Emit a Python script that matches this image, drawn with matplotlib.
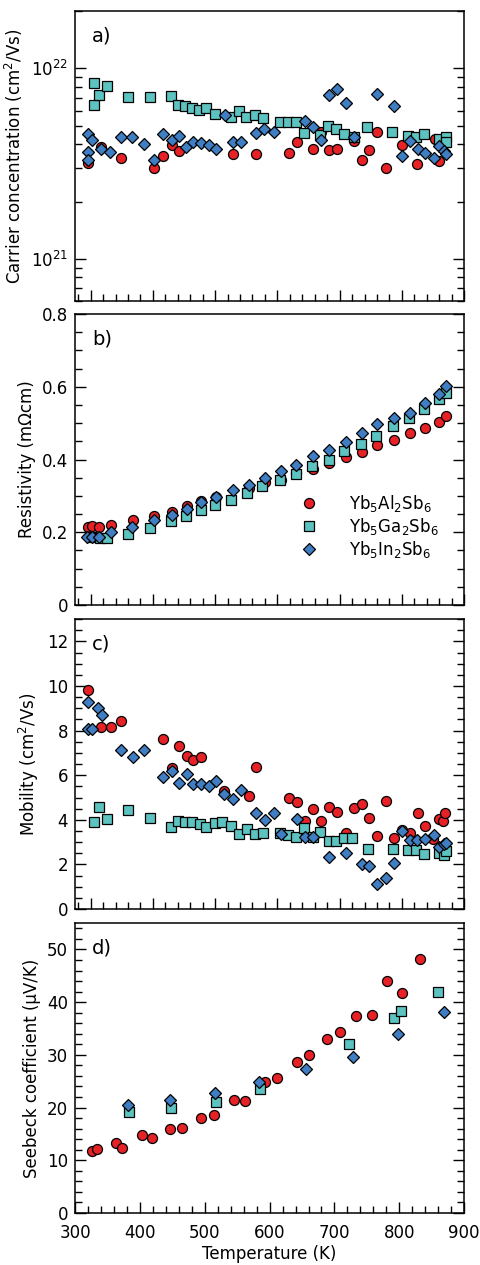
import matplotlib
matplotlib.use("Agg")
import matplotlib.pyplot as plt
from matplotlib.ticker import MultipleLocator, LogLocator, NullFormatter

plt.rcParams['font.family'] = ['DejaVu Sans']
plt.rcParams['mathtext.fontset'] = 'dejavusans'

labels = ["Yb$_5$Al$_2$Sb$_6$", "Yb$_5$Ga$_2$Sb$_6$", "Yb$_5$In$_2$Sb$_6$"]
colors = ["#E62227", "#5CC3C0", "#3F7EC3"]
markers = ["o", "s", "D"]
msizes = [7.2, 6.6, 6.4]

# ---- a) carrier concentration (units of 1e21 cm^-3)
a_T_Al = [295.4, 316.7, 348.2, 401.6, 416.5, 430.9, 441.7, 528.7, 566.2, 618.4, 631.3, 658,
          670.4, 682.5, 696, 722.6, 735.4, 747.8, 760.1, 774.5, 799.8, 824.7, 853.1, 860]
a_n_Al = [3.17, 3.85, 3.40, 3.00, 3.47, 3.97, 3.70, 3.56, 3.56, 3.61, 4.09, 3.79,
          4.62, 3.75, 3.77, 4.15, 3.30, 3.75, 4.64, 2.99, 3.98, 3.14, 4.27, 3.25]
a_T_Ga = [305.9, 305.9, 313.5, 325.8, 359.9, 395.2, 428.4, 439.6, 452.4, 463, 474.2, 486.1,
          499.4, 526.1, 537.8, 550.2, 563.5, 576.8, 603.5, 617, 630.3, 642.5, 668.8, 681.2,
          694.4, 707.7, 723.7, 744.1, 784.3, 809.1, 822.6, 835.9, 858.8, 870.7, 870.7]
a_n_Ga = [8.37, 6.39, 7.27, 8.07, 7.04, 7.04, 7.15, 6.39, 6.33, 6.18, 6.08, 6.18,
          5.73, 5.54, 5.96, 5.54, 5.71, 5.48, 5.22, 5.22, 5.22, 4.57, 4.49, 5.01,
          4.82, 4.53, 4.35, 4.91, 4.62, 4.44, 4.35, 4.53, 4.27, 4.35, 4.09]
a_T_In = [296.3, 302.7, 296.3, 296.3, 316.7, 331.1, 348.2, 365.9, 385.6, 402.1, 416.5, 430,
          441.7, 454, 464.6, 476.9, 489.7, 502.1, 515.4, 528.7, 542.1, 566.2, 578.4, 593.9,
          643.6, 657, 670.4, 682.5, 696, 710.4, 723.7, 760.1, 786.7, 799.5, 813, 825.2,
          837.5, 850.8, 860, 868, 870.7]
a_n_In = [4.53, 4.22, 3.63, 3.31, 3.78, 3.63, 4.35, 4.35, 4.02, 3.31, 4.53, 4.22,
          4.44, 3.88, 4.13, 4.04, 3.97, 3.78, 5.71, 4.09, 4.09, 4.57, 4.82, 4.62,
          5.32, 4.95, 4.23, 7.21, 7.82, 6.60, 4.35, 7.36, 6.33, 3.48, 4.18, 3.78,
          3.60, 3.39, 3.93, 3.70, 3.56]

# ---- b) resistivity (mOhm cm)
b_T_Al = [295.4, 302.7, 313.5, 332.2, 367.5, 401.6, 430.9, 455, 478, 502.1, 553.9, 579.5,
          606.3, 630.3, 658, 682.5, 710.4, 735.4, 760.1, 787.8, 813, 837.1, 860, 870.7]
b_r_Al = [0.214, 0.218, 0.214, 0.221, 0.233, 0.244, 0.257, 0.273, 0.287, 0.297, 0.322, 0.337,
          0.345, 0.363, 0.375, 0.391, 0.406, 0.421, 0.439, 0.453, 0.472, 0.486, 0.503, 0.521]
b_T_Ga = [300.2, 315.1, 326.8, 359.9, 395.2, 428.4, 454, 476.9, 499.4, 526.1, 551.1, 575.8,
          603.5, 629.2, 656, 682.5, 707.7, 734.5, 758.5, 785.1, 810.8, 835.9, 860, 870.7]
b_r_Ga = [0.187, 0.185, 0.184, 0.195, 0.212, 0.230, 0.244, 0.262, 0.276, 0.290, 0.308, 0.326,
          0.343, 0.361, 0.382, 0.400, 0.423, 0.444, 0.466, 0.492, 0.515, 0.540, 0.566, 0.584]
b_T_In = [293.7, 301.8, 313.5, 332.2, 366.8, 401.6, 430.9, 455, 478, 502.1, 528.7, 553.9,
          579.5, 606.3, 630.3, 658, 682.5, 710.4, 735.4, 760.1, 787.8, 813, 837.1, 860, 870.7]
b_r_In = [0.188, 0.187, 0.188, 0.201, 0.214, 0.233, 0.248, 0.264, 0.282, 0.297, 0.315, 0.331,
          0.350, 0.368, 0.386, 0.409, 0.426, 0.448, 0.472, 0.499, 0.515, 0.529, 0.555, 0.581, 0.601]

# ---- c) mobility (cm^2/Vs)
c_T_Al = [295.4, 316.7, 332.2, 348.2, 416.5, 430.9, 441.7, 455, 464.6, 476.9, 514.3, 553.9,
          566.2, 618.4, 631.3, 643.6, 658, 670.4, 682.5, 696, 710.4, 722.6, 735.4, 746.6,
          760.1, 774.5, 787.8, 800.2, 813, 825.2, 837.1, 849.2, 860, 866.8, 869.1]
c_m_Al = [9.82, 8.17, 8.17, 8.43, 7.61, 6.32, 7.31, 6.87, 6.68, 6.83, 5.30, 5.07,
          6.38, 4.96, 4.81, 3.96, 4.48, 3.96, 4.59, 4.34, 3.39, 4.54, 4.71, 4.07,
          3.29, 4.84, 3.20, 3.54, 3.42, 4.32, 3.72, 3.12, 4.02, 3.96, 4.32]
c_T_Ga = [305.9, 313.5, 326.8, 359.9, 395.2, 428.4, 440.5, 452.4, 463, 475.3, 486.1, 499.4,
          511.7, 526.1, 537.8, 551.1, 563.5, 576.8, 603.5, 616.8, 630.3, 642.5, 656.9, 668.8,
          682.5, 694.4, 707.7, 720.1, 745, 785.1, 809.1, 822.6, 835.9, 858.8, 868, 870.7]
c_m_Ga = [3.91, 4.56, 4.02, 4.44, 4.09, 3.69, 3.96, 3.89, 3.89, 3.81, 3.69, 3.84,
          3.91, 3.73, 3.35, 3.59, 3.35, 3.42, 3.39, 3.32, 3.21, 3.62, 3.24, 3.47,
          3.06, 3.06, 3.17, 3.17, 2.69, 2.69, 2.65, 2.65, 2.47, 2.52, 2.42, 2.60]
c_T_In = [296.3, 296.3, 302.7, 312.3, 317.8, 348.2, 367.5, 385.6, 416.5, 430.9, 441.7, 455,
          464.6, 476.9, 489.7, 502.1, 514.3, 528.7, 542.1, 566.2, 579.5, 593.9, 606.3, 631.3,
          643.6, 658, 682.5, 710.4, 735.4, 747.8, 760.1, 774.2, 787.2, 800, 813, 824.7,
          837.3, 850.8, 859.4, 868, 870.7]
c_m_In = [9.29, 8.07, 8.07, 9.02, 8.70, 7.13, 6.80, 7.13, 5.93, 6.19, 5.64, 6.04,
          5.59, 5.59, 5.53, 5.75, 5.14, 4.93, 5.33, 4.32, 3.99, 4.32, 3.36, 4.02,
          3.24, 3.24, 2.33, 2.50, 2.02, 1.91, 1.11, 1.40, 2.08, 3.49, 3.08, 3.09,
          3.14, 3.30, 2.78, 2.91, 2.96]

# ---- d) Seebeck coefficient (uV/K)
d_T_Al = [325.6, 333.8, 362.6, 372.8, 402.6, 418.9, 446.1, 465.6, 493.8, 514.3, 544.5, 562.5,
          592.2, 611.7, 641.9, 661.4, 688, 709.1, 733.2, 757.8, 780.9, 803.4, 831.7]
d_S_Al = [11.8, 12.1, 13.3, 12.3, 14.8, 14.3, 15.9, 16.2, 18.1, 18.5, 21.4, 21.3,
          24.8, 25.6, 28.7, 30.0, 33.1, 34.4, 37.4, 37.6, 44.0, 41.8, 48.1]
d_T_Ga = [383.5, 447.2, 516.9, 584.6, 721.9, 792.2, 802.4, 860.3]
d_S_Ga = [19.2, 19.9, 21.0, 23.5, 32.1, 36.9, 38.4, 42.0]
d_T_In = [382.0, 446.1, 516.4, 583.5, 656.3, 728.1, 797.3, 869.2]
d_S_In = [20.5, 21.4, 22.8, 24.9, 27.3, 29.6, 33.9, 38.1]

fig = plt.figure(figsize=(4.81, 12.65), dpi=100)
L, W = 0.156, 0.809
axa = fig.add_axes([L, 0.762, W, 0.2292])
axb = fig.add_axes([L, 0.5217, W, 0.2300])
axc = fig.add_axes([L, 0.2814, W, 0.2292])
axd = fig.add_axes([L, 0.0411, W, 0.2292])

def draw(ax, series):
    for (T, v), c, m, ms, lab in zip(series, colors, markers, msizes, labels):
        ax.plot(T, v, linestyle='none', marker=m, markersize=ms, markerfacecolor=c,
                markeredgecolor='black', markeredgewidth=0.9, label=lab)

draw(axa, [(a_T_Al, [v * 1e21 for v in a_n_Al]), (a_T_Ga, [v * 1e21 for v in a_n_Ga]),
           (a_T_In, [v * 1e21 for v in a_n_In])])
draw(axb, [(b_T_Al, b_r_Al), (b_T_Ga, b_r_Ga), (b_T_In, b_r_In)])
draw(axc, [(c_T_Al, c_m_Al), (c_T_Ga, c_m_Ga), (c_T_In, c_m_In)])
draw(axd, [(d_T_Al, d_S_Al), (d_T_Ga, d_S_Ga), (d_T_In, d_S_In)])

for ax in (axa, axb, axc):
    ax.set_xlim(275, 900)
    ax.tick_params(axis='x', labelbottom=False)
axd.set_xlim(300, 900)

axa.set_yscale('log')
axa.set_ylim(6e20, 2e22)
axa.yaxis.set_major_locator(LogLocator(base=10, numticks=10))
axa.yaxis.set_minor_locator(LogLocator(base=10, subs=range(2, 10), numticks=20))
axa.yaxis.set_minor_formatter(NullFormatter())

axb.set_ylim(0, 0.8)
axb.yaxis.set_minor_locator(MultipleLocator(0.05))
axb.set_yticks([0, 0.2, 0.4, 0.6, 0.8], labels=["0", "0.2", "0.4", "0.6", "0.8"])

axc.set_ylim(0, 13)
axc.yaxis.set_major_locator(MultipleLocator(2))
axc.yaxis.set_minor_locator(MultipleLocator(0.5))

axd.set_ylim(0, 55)
axd.yaxis.set_major_locator(MultipleLocator(10))
axd.yaxis.set_minor_locator(MultipleLocator(2))

for ax in (axa, axb, axc, axd):
    ax.xaxis.set_major_locator(MultipleLocator(100))
    ax.xaxis.set_minor_locator(MultipleLocator(20))
    ax.tick_params(which='both', direction='in', left=True, right=True, top=False,
                   bottom=True, labelsize=12, width=1.0, colors='black')
    ax.tick_params(which='major', length=8)
    ax.tick_params(which='minor', length=5)
    ax.tick_params(axis='x', which='major', pad=8)
    ax.tick_params(axis='y', which='major', pad=5)
    for s in ax.spines.values():
        s.set_linewidth(1.1)

axa.set_ylabel("Carrier concentration (cm$^2$/Vs)", fontsize=12)
axb.set_ylabel("Resistivity (mΩcm)", fontsize=12)
axc.set_ylabel("Mobility (cm$^2$/Vs)", fontsize=12)
axd.set_ylabel("Seebeck coefficient (μV/K)", fontsize=12)
axd.set_xlabel("Temperature (K)", fontsize=12, labelpad=2)

for ax, t in zip((axa, axb, axc, axd), ("a)", "b)", "c)", "d)")):
    ax.text(0.044, 0.915, t, transform=ax.transAxes, fontsize=14, ha='left', va='center')

axb.legend(loc='upper left', bbox_to_anchor=(0.553, 0.415), frameon=False, fontsize=12,
           borderpad=0, handletextpad=1.8, labelspacing=0.12, handlelength=1.2)

fig.savefig("out.png", dpi=100)
